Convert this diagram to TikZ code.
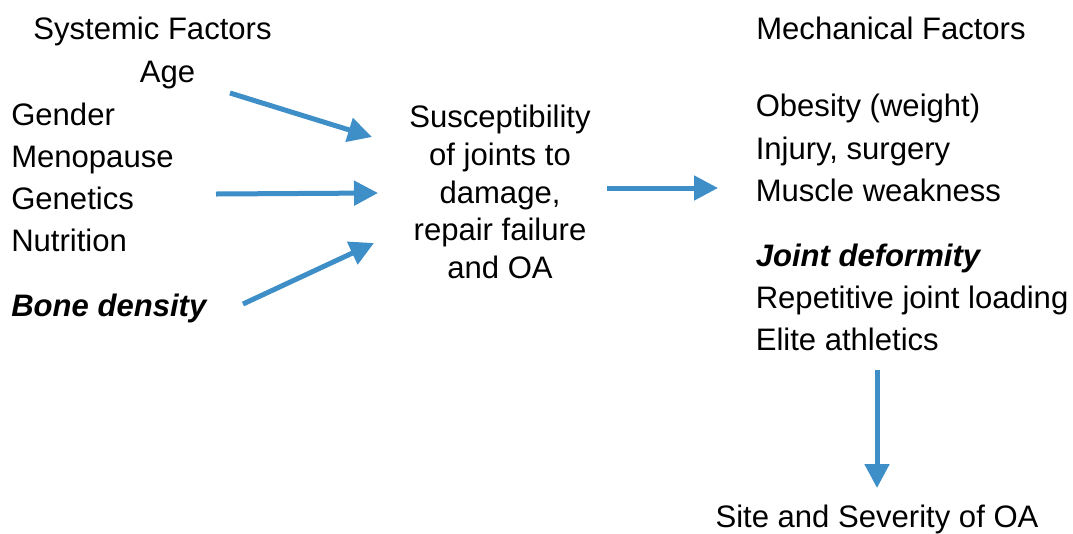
\documentclass[tikz,border=0pt]{standalone}
\usepackage{fontspec}
\setmainfont{Liberation Sans}
\usepackage{tikz}
\usetikzlibrary{arrows.meta}
\definecolor{arrowblue}{RGB}{62,142,200}

\begin{document}
\begin{tikzpicture}[x=0.75pt,y=-0.75pt,
        lbl/.style={inner sep=0pt,font=\fontsize{23.3}{28.3}\selectfont},
        key/.style={inner sep=0pt,font=\fontsize{23.3}{28.3}\selectfont\bfseries\itshape},
        flow/.style={draw=arrowblue,line width=3.75pt,-{Triangle[length=18pt,width=18pt]}}]
        \useasboundingbox (0,0) rectangle (1073,533);

        % systemic side
        \node[lbl,anchor=base] (sysf) at (152.5,39) {Systemic Factors};
        \node[lbl,anchor=base] (age) at (167.5,82) {Age};
        \node[lbl,anchor=base west] (gender) at (11,125) {Gender};
        \node[lbl,anchor=base west] (menop) at (11,167) {Menopause};
        \node[lbl,anchor=base west] (genet) at (11,209) {Genetics};
        \node[lbl,anchor=base west] (nutri) at (11,251) {Nutrition};
        \node[key,anchor=base west] (bone) at (11,316) {Bone density};

        % middle
        \node[lbl,align=center] (suscept) at (500,192) {Susceptibility\\of joints to\\damage,\\repair failure\\and OA};

        % mechanical side
        \node[lbl,anchor=base] (mechf) at (891,39) {Mechanical Factors};
        \node[lbl,anchor=base west] (obes) at (755.5,116) {Obesity (weight)};
        \node[lbl,anchor=base west] (injury) at (755.5,159) {Injury, surgery};
        \node[lbl,anchor=base west] (muscle) at (755.5,201) {Muscle weakness};
        \node[key,anchor=base west] (deform) at (755.5,266) {Joint deformity};
        \node[lbl,anchor=base west] (repet) at (755.5,308) {Repetitive joint loading};
        \node[lbl,anchor=base west] (elite) at (755.5,350) {Elite athletics};

        \node[lbl,anchor=base] (site) at (877,527) {Site and Severity of OA};

        % arrow ends
        \coordinate (s1) at (230,93);  \coordinate (e1) at (372,137);
        \coordinate (s2) at (216,194); \coordinate (e2) at (378,193);
        \coordinate (s3) at (243,304); \coordinate (e3) at (374,243);
        \coordinate (s4) at (607,188); \coordinate (e4) at (718,188);
        \coordinate (s5) at (877,370); \coordinate (e5) at (877,488);

        \draw[flow] (s1) -- (e1);
        \draw[flow] (s2) -- (e2);
        \draw[flow] (s3) -- (e3);
        \draw[flow] (s4) -- (e4);
        \draw[flow] (s5) -- (e5);
\end{tikzpicture}
\end{document}
